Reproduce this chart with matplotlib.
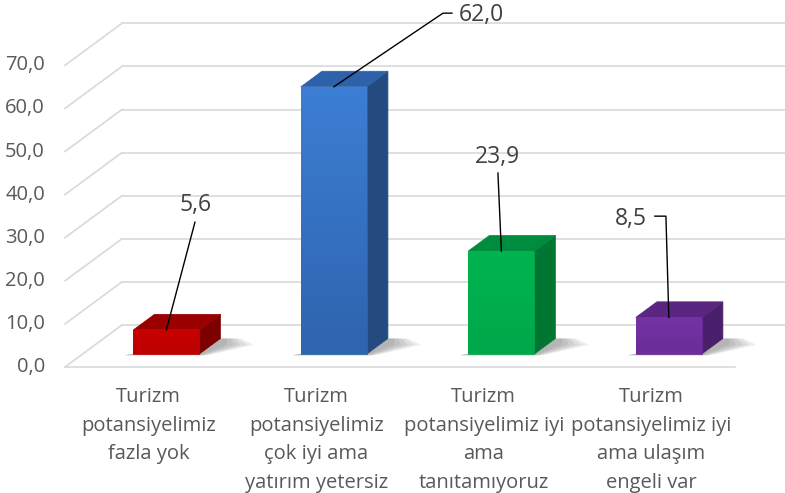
import numpy as np
import matplotlib.pyplot as plt
from matplotlib.patches import Polygon
from matplotlib.colors import LinearSegmentedColormap

plt.rcParams['font.family'] = ['Open Sans', 'DejaVu Sans']

categories = [
    "Turizm\npotansiyelimiz\nfazla yok",
    "Turizm\npotansiyelimiz\nçok iyi ama\nyatırım yetersiz",
    "Turizm\npotansiyelimiz iyi\nama\ntanıtamıyoruz",
    "Turizm\npotansiyelimiz iyi\nama ulaşım\nengeli var",
]
values = [5.6, 62.0, 23.9, 8.5]
value_labels = ["5,6", "62,0", "23,9", "8,5"]
y_ticks = [0, 10, 20, 30, 40, 50, 60, 70]
tick_labels = ["0,0", "10,0", "20,0", "30,0", "40,0", "50,0", "60,0", "70,0"]

# front (top -> bottom gradient) / top / side shades
face_hi = ["#C80000", "#3C7ED4", "#00B450", "#7532A6"]
face_lo = ["#BC0000", "#2F64AE", "#00A84B", "#6A2D99"]
top_colors = ["#9A0000", "#2D62AA", "#008C3F", "#5A2682"]
side_colors = ["#7C0000", "#234B80", "#007633", "#4A1F6C"]

# fake 3d: depth shift of the back wall in data units
DX, DY = 0.34, 9.74
W = 0.394           # bar width
Z0, Z1 = 0.31, 0.68  # bar depth span (0 = front, 1 = back wall)


def proj(x, y, z):
    return (x + z * DX, y + z * DY)


fig = plt.figure(figsize=(7.85, 4.93), dpi=100)
ax = fig.add_axes([0, 0, 1, 1])
xmin, xmax = -0.888, 3.799
ax.set_xlim(xmin, xmax)
ax.set_ylim(-29.23, 85.15)
ax.axis('off')

grid_c = "#D9D9D9"
for v, lab in zip(y_ticks, tick_labels):
    ax.plot([-0.5, -0.5 + DX], [v, v + DY], color=grid_c, lw=1.2, zorder=1)
    ax.plot([-0.5 + DX, xmax], [v + DY, v + DY], color=grid_c, lw=1.2, zorder=1)
    ax.text(-0.62, v, lab, ha='right', va='center', fontsize=14.5, color="#595959")
ax.plot([-0.5, len(values) - 0.5], [0, 0], color=grid_c, lw=1.2, zorder=1)

# label placement (layout only)
label_pos = [(0.282, 37.6), (1.984, 81.7), (2.085, 48.7), (2.879, 34.3)]
leader_start = [[(0.276, 33.6)],
                [(1.810, 82.1), (1.757, 82.1)],
                [(2.085, 45.0)],
                [(3.022, 35.0), (3.088, 35.0)]]

for i, v in enumerate(values):
    xl, xr = i - W / 2, i + W / 2
    # soft floor shadow, cast to the right
    for k in range(5):
        e = 0.04 * (5 - k)
        sh = [proj(xl - 0.04, 0, Z0 - 0.03), proj(xr + e * 0.3, 0, Z0 - 0.03),
              proj(xr + 0.05 + e, 0, Z0 + 0.22), proj(xr + 0.02 + e * 0.5, 0, Z1),
              proj(xr, 0, Z1)]
        ax.add_patch(Polygon(sh, closed=True, fc="#404040", ec='none', alpha=0.09, zorder=2))
    front = [proj(xl, 0, Z0), proj(xr, 0, Z0), proj(xr, v, Z0), proj(xl, v, Z0)]
    top = [proj(xl, v, Z0), proj(xr, v, Z0), proj(xr, v, Z1), proj(xl, v, Z1)]
    side = [proj(xr, 0, Z0), proj(xr, 0, Z1), proj(xr, v, Z1), proj(xr, v, Z0)]
    ax.add_patch(Polygon(side, closed=True, fc=side_colors[i], ec=side_colors[i], lw=0.5, zorder=3))
    ax.add_patch(Polygon(top, closed=True, fc=top_colors[i], ec=top_colors[i], lw=0.5, zorder=3))
    fp = Polygon(front, closed=True, fc=face_lo[i], ec=face_lo[i], lw=0.5, zorder=4)
    ax.add_patch(fp)
    cmap = LinearSegmentedColormap.from_list("f%d" % i, [face_lo[i], face_hi[i]])
    x0, y0 = front[0]
    x1, y1 = front[2]
    im = ax.imshow(np.linspace(0, 1, 50).reshape(-1, 1), cmap=cmap, origin='lower',
                   extent=[x0, x1, y0, y1], aspect='auto', zorder=4, interpolation='bilinear')
    im.set_clip_path(fp)

    # leader line to the front top edge
    end = proj(i, v, Z0)
    pts = leader_start[i] + [end]
    ax.plot([p[0] for p in pts], [p[1] for p in pts], color="black", lw=1.0, zorder=5)
    ax.text(label_pos[i][0], label_pos[i][1], value_labels[i], ha='center', va='center',
            fontsize=16.5, color="#404040", zorder=6)

    ax.text(i, -4.6, categories[i], ha='center', va='top', fontsize=14.5,
            color="#595959", linespacing=1.58)

ax.set_xlim(xmin, xmax)
ax.set_ylim(-29.23, 85.15)
fig.savefig("out.png", dpi=100)
